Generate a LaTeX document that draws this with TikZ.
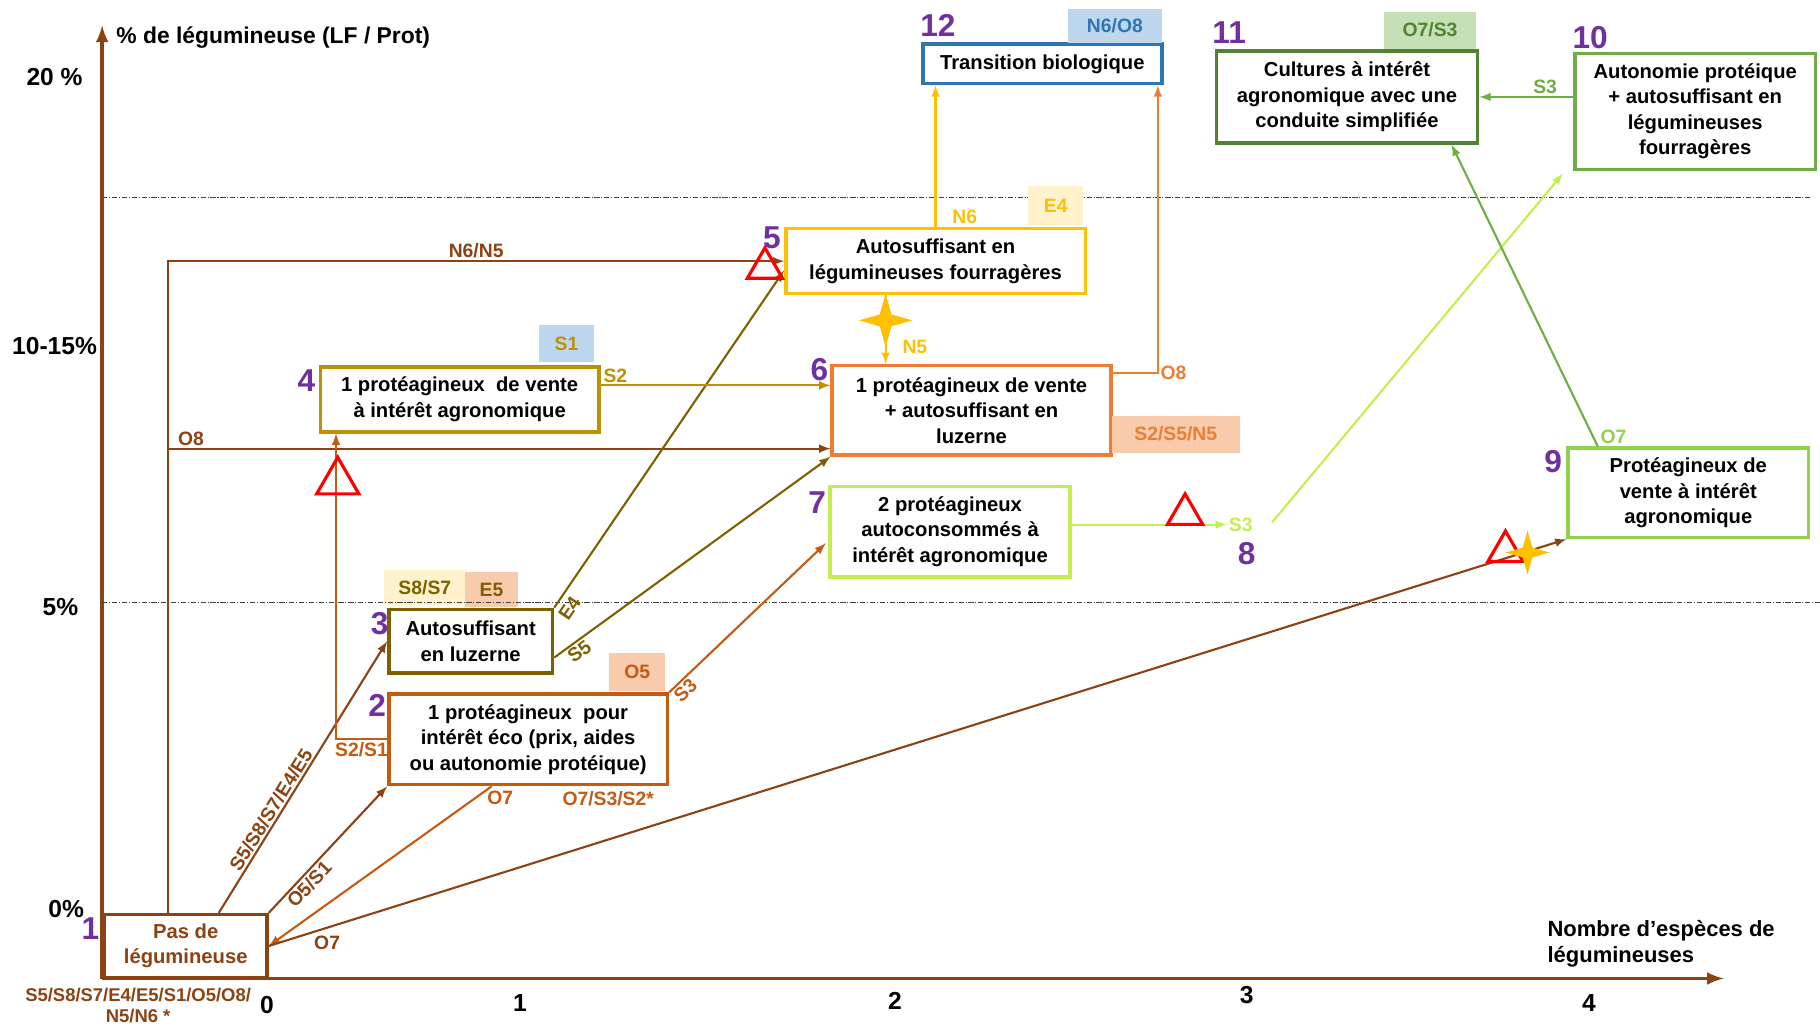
\documentclass[tikz,border=0pt]{standalone}
\usepackage{fontspec}
\setmainfont{Liberation Sans}
\usepackage{xcolor}
\usepackage{tikz}
\usetikzlibrary{calc, shapes.geometric, positioning}

\definecolor{brun}{RGB}{139,67,19}
\definecolor{orfonce}{RGB}{197,90,17}
\definecolor{olivefonce}{RGB}{127,96,0}
\definecolor{dore}{RGB}{191,144,0}
\definecolor{jaune}{RGB}{255,192,0}
\definecolor{orangevif}{RGB}{237,125,49}
\definecolor{vertlime}{RGB}{196,238,80}
\definecolor{vertclair}{RGB}{146,208,80}
\definecolor{vert}{RGB}{112,173,71}
\definecolor{vertfonce}{RGB}{84,130,53}
\definecolor{bleu}{RGB}{46,117,182}
\definecolor{violetnum}{RGB}{112,48,160}
\definecolor{peche}{RGB}{248,203,173}
\definecolor{jaunepale}{RGB}{255,242,204}
\definecolor{bleupale}{RGB}{189,215,238}
\definecolor{vertpale}{RGB}{197,224,180}

\begin{document}
\begin{tikzpicture}[>=latex, x=0.02321cm, y=-0.02321cm,
    boite/.style={draw=#1, line width=2pt, fill=white, align=center, inner sep=1pt,
        font=\bfseries\fontsize{11.5}{14.5}\selectfont},
    taille/.style 2 args={minimum width=#1*0.02321cm, minimum height=#2*0.02321cm},
    marque/.style 2 args={fill=#1, text=#2, inner sep=0pt, font=\bfseries\fontsize{11}{13}\selectfont},
    etiq/.style={text=#1, inner sep=1pt, font=\bfseries\fontsize{11}{13}\selectfont},
    num/.style={text=violetnum, inner sep=0pt, font=\bfseries\fontsize{18}{18}\selectfont},
    fleche/.style={draw=#1, line width=1.2pt, ->},
    alerte/.style={regular polygon, regular polygon sides=3, draw=red, line width=1.8pt,
        inner sep=0pt, minimum size=#1*0.02321cm},
    etoile/.style={star, star points=4, star point ratio=3.2, fill=jaune, inner sep=0pt,
        minimum size=#1*0.02321cm},
    axe/.style={draw=brun, line width=2.2pt, ->},
    repere/.style={draw=black!75, line width=0.6pt, densely dash dot},
    graduation/.style={inner sep=0pt, font=\bfseries\fontsize{14}{14}\selectfont}]
    \useasboundingbox (0,0) rectangle (1568,884);

    % Axes
    \draw[repere] (88,170) -- (1560,170);
    \draw[axe] (88,843) -- (88,22);
    \draw[axe] (88,843) -- (1485,843);
    \node[anchor=west, inner sep=0pt, font=\bfseries\fontsize{13}{14}\selectfont] (titrey) at (100,32) {\% de légumineuse (LF / Prot)};
    \node[anchor=west, align=left, inner sep=0pt, font=\bfseries\fontsize{12.5}{15}\selectfont] (titrex) at (1333,813) {Nombre d’espèces de\\légumineuses};
    \node[graduation] (g0) at (230,866) {0};
    \node[graduation] (g1) at (448,864) {1};
    \node[graduation] (g2) at (771,862) {2};
    \node[graduation] (g3) at (1074,857) {3};
    \node[graduation] (g4) at (1369,864) {4};
    \node[graduation] (p20) at (47,66) {20 \%};
    \node[graduation] (p10) at (47,298) {10-15\%};
    \node[graduation] (p5) at (52,523) {5\%};
    \node[graduation] (p0) at (57,783) {0\%};

    % Etapes
    \node[boite=brun, taille={140}{54}, text=brun] (n1) at (160,815) {Pas de\\légumineuse};
    \node[boite=orfonce, taille={240}{78}] (n2) at (455,637) {1 protéagineux~ pour\\intérêt éco (prix, aides\\ou autonomie protéique)};
    \node[boite=olivefonce, taille={141}{55}] (n3) at (405.5,552.5) {Autosuffisant\\en luzerne};
    \node[boite=dore, taille={240}{56}] (n4) at (396,344) {1 protéagineux~ de vente\\à intérêt agronomique};
    \node[boite=jaune, taille={258}{56}] (n5) at (806,225) {Autosuffisant en\\légumineuses fourragères};
    \node[boite=orangevif, taille={240}{77}] (n6) at (837,353.5) {1 protéagineux de vente\\+ autosuffisant en\\luzerne};
    \node[boite=vertlime, taille={207}{78}] (n7) at (818.5,458) {2 protéagineux\\autoconsommés à\\intérêt agronomique};
    \node[etiq=vertlime] (n8) at (1069,452) {S3};
    \node[boite=vertclair, taille={207}{77}] (n9) at (1454.5,424.5) {Protéagineux de\\vente à intérêt\\agronomique};
    \node[boite=vert, taille={207}{100}] (n10) at (1460.5,96) {Autonomie protéique\\+ autosuffisant en\\légumineuses\\fourragères};
    \node[boite=vertfonce, taille={225}{79}] (n11) at (1160.5,83.5) {Cultures à intérêt\\agronomique avec une\\conduite simplifiée};
    \node[boite=bleu, taille={206}{34}] (n12) at (898,55) {Transition biologique};

    % Codes
    \node[marque={peche}{orfonce}, taille={48}{32}] (tO5) at (549,579) {O5};
    \node[marque={jaunepale}{olivefonce}, taille={70}{30}] (tS8) at (366,506) {S8/S7};
    \node[marque={peche}{olivefonce}, taille={45}{30}] (tE5) at (423.5,508) {E5};
    \node[marque={bleupale}{dore}, taille={48}{32}] (tS1) at (488,296) {S1};
    \node[marque={jaunepale}{jaune}, taille={47}{34}] (tE4) at (909.5,177) {E4};
    \node[marque={peche}{orangevif}, taille={110}{32}] (tS2) at (1013,374) {S2/S5/N5};
    \node[marque={bleupale}{bleu}, taille={81}{29}] (tN6) at (960.5,22.5) {N6/O8};
    \node[marque={vertpale}{vertfonce}, taille={80}{32}] (tO7) at (1232,26) {O7/S3};
    \node[etiq=orfonce] (tO7b) at (524,688) {O7/S3/S2*};
    \node[etiq=brun, align=center, font=\bfseries\fontsize{10.5}{12}\selectfont] (tdep) at (119,866) {S5/S8/S7/E4/E5/S1/O5/O8/\\N5/N6 *};
    \draw[repere] (88,519) -- (1568,519);

    % Numeros
    \node[num] (c1) at (78,800) {1};
    \node[num] (c2) at (325,608) {2};
    \node[num] (c3) at (327,537) {3};
    \node[num] (c4) at (264,328) {4};
    \node[num] (c5) at (665,205) {5};
    \node[num] (c6) at (706,318) {6};
    \node[num] (c7) at (704,433) {7};
    \node[num] (c8) at (1074,477) {8};
    \node[num] (c9) at (1338,398) {9};
    \node[num] (c10) at (1370,32) {10};
    \node[num] (c11) at (1059,28) {11};
    \node[num] (c12) at (808,22) {12};

    % Trajectoires
    \coordinate (tronc) at (145,0);
    \draw[fleche=brun] (n1.north -| tronc) |- (n5.west) node[etiq=brun, pos=0.75, above] {N6/N5};
    \coordinate (o8) at ($(n6.south west)+(0,-7)$);
    \draw[fleche=brun] (o8 -| tronc) -- (o8) node[etiq=brun, pos=0, above right, xshift=4pt] {O8};
    \draw[fleche=brun] ($(n1.north west)+(100,0)$) -- (n3.west) node[etiq=brun, pos=0.36, sloped, above] {S5/S8/S7/E4/E5};
    \draw[fleche=brun] (n1.north east) -- (n2.south west) node[etiq=brun, pos=0.28, sloped, below] {O5/S1};
    \draw[fleche=orfonce] ($(n2.south west)+(90,0)$) -- (n1.east) node[etiq=orfonce, pos=0, below right, xshift=-4pt, yshift=-1pt] {O7};
    \draw[fleche=brun] (n1.east) -- (n9.south west) node[etiq=brun, pos=0.045, below=3pt] {O7};
    \draw[fleche=orfonce] (n2.west) -| ($(n4.south west)+(15,0)$) node[etiq=orfonce, pos=0.25, below] {S2/S1};
    \draw[fleche=orfonce] (n2.north east) -- ($(n7.west)+(-2,10)$) node[etiq=orfonce, pos=0.06, sloped, below] {S3};
    \draw[fleche=olivefonce] (n3.north east) -- ($(n5.west)+(0,8)$) node[etiq=olivefonce, pos=0.02, sloped, below=2pt] {E4};
    \draw[fleche=olivefonce] ($(n3.east)+(0,14)$) -- (n6.south west) node[etiq=olivefonce, pos=0.07, sloped, below] {S5};
    \coordinate (s2) at ($(n4.east)+(0,-12)$);
    \draw[fleche=dore] (s2) -- (s2 -| n6.west) node[etiq=dore, pos=0, above right] {S2};
    \draw[fleche=jaune] (n5.north) -- (n5.north |- n12.south) node[etiq=jaune, pos=0, above right, xshift=8pt] {N6};
    \coordinate (n5b) at ($(n5.south)+(-43,0)$);
    \draw[fleche=jaune] (n5b) -- (n5b |- n6.north) node[etiq=jaune, pos=0.75, right=8pt] {N5};
    \coordinate (o8b) at ($(n6.east)+(0,-32)$);
    \draw[fleche=orangevif] (o8b) -| ($(n12.south east)+(-5,0)$) node[etiq=orangevif, pos=0.5, right] {O8};
    \draw[fleche=vertlime] (n8.west -| n7.east) -- (n8.west);
    \draw[fleche=vertlime] ($(n8.east)+(15,-2)$) -- ($(n10.south west)+(-9,2)$);
    \draw[fleche=vert] ($(n9.north west)+(27,0)$) -- ($(n11.south east)+(-24,0)$) node[etiq=vertclair, pos=0, above right] {O7};
    \draw[fleche=vert] (n11.east -| n10.west) -- (n11.east) node[etiq=vert, pos=0.3, above] {S3};

    % Alertes
    \node[alerte=35] (a1) at (659,231) {};
    \node[alerte=42] (a2) at (291,415) {};
    \node[alerte=35] (a3) at (1021,443) {};
    \node[alerte=35] (a4) at (1297,475) {};
    \node[etoile=46] (e1) at (763,276) {};
    \node[etoile=38] (e2) at (1316,476) {};
\end{tikzpicture}
\end{document}
